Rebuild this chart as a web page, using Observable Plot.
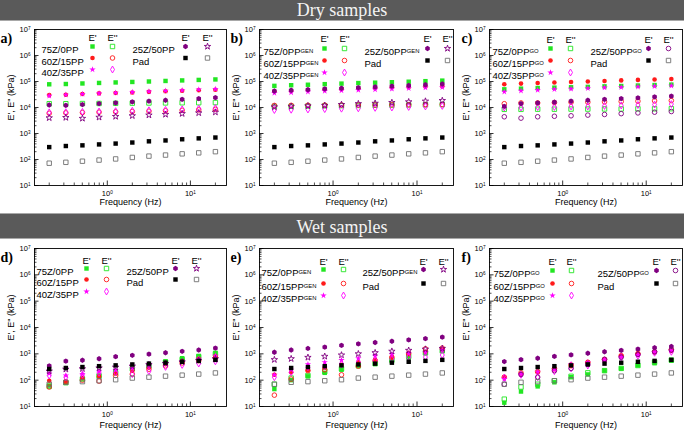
<!DOCTYPE html>
<html><head><meta charset="utf-8">
<script src="https://cdn.jsdelivr.net/npm/d3@7"></script>
<script src="https://cdn.jsdelivr.net/npm/@observablehq/plot@0.6"></script>
<style>
body{margin:0;background:#fff}
#wrap{position:relative;width:684px;height:433px;overflow:hidden;font-family:"Liberation Sans",Arial,sans-serif;background:#fff}
.band{position:absolute;left:0;width:684px;background:#5a5a5a;color:#f4f4f4;font-family:"Liberation Serif","Times New Roman",serif;font-size:18px;text-align:center;box-sizing:border-box;border-bottom:1px solid #a8a8a8}
.panel{position:absolute}
</style></head>
<body><div id="wrap">
<div class="band" style="top:0;height:21px;line-height:20px">Dry samples</div>
<div class="band" style="top:213px;height:26px;line-height:26px;border-top:1px solid #a8a8a8">Wet samples</div>
</div>
<script>
// ---- data ----
const freq = [0.2, 0.317, 0.502, 0.796, 1.26, 2, 3.17, 5.02, 7.96, 12.6, 20];
const sampleNames = ["75Z/0PP", "60Z/15PP", "40Z/35PP", "25Z/50PP", "Pad"];
const xTickValues = [1, 10];
const yTickValues = [1e1, 1e2, 1e3, 1e4, 1e5, 1e6, 1e7];

// Dry, neat (a)
const a75_Ep  = [78000, 80000, 84000, 88000, 92000, 96000, 100000, 105000, 110000, 115000, 120000];
const a75_Epp = [14000, 14000, 14200, 14300, 14500, 14700, 14900, 15000, 15200, 15300, 15500];
const a60_Ep  = [30000, 31000, 33000, 35000, 36000, 38000, 40000, 42000, 44000, 46000, 48000];
const a60_Epp = [6000, 6200, 6400, 6600, 6800, 7000, 7200, 7500, 7800, 8100, 8500];
const a40_Ep  = [28000, 31000, 33000, 35000, 37000, 39000, 41000, 44000, 46000, 49000, 51000];
const a40_Epp = [6500, 6600, 6800, 7000, 7200, 7500, 7800, 8100, 8500, 9000, 9500];
const a25_Ep  = [12500, 12000, 13000, 14000, 15000, 16500, 17500, 19000, 20500, 22000, 24000];
const a25_Epp = [4000, 4100, 3800, 4200, 4500, 4800, 5100, 5400, 5800, 6200, 6600];
const padDry_Ep  = [300, 330, 350, 380, 410, 450, 500, 540, 600, 650, 700];
const padDry_Epp = [72, 78, 86, 95, 105, 120, 135, 148, 165, 180, 200];

// Dry, GEN (b)
const b75_Ep  = [68000, 72000, 75000, 79000, 83000, 87000, 90000, 94000, 98000, 103000, 108000];
const b75_Epp = [11000, 11200, 11400, 11600, 11800, 12000, 12200, 12400, 12600, 12800, 13000];
const b60_Ep  = [42000, 44000, 47000, 50000, 52000, 55000, 57000, 60000, 62000, 64000, 66000];
const b60_Epp = [12000, 12100, 12200, 12300, 12400, 12500, 12600, 12700, 12800, 12900, 13000];
const b40_Ep  = [36000, 38000, 40000, 43000, 45000, 47000, 49000, 52000, 55000, 58000, 60000];
const b40_Epp = [8000, 8200, 8400, 8700, 9000, 9300, 9700, 10000, 10500, 11000, 11500];
const b25_Ep  = [43000, 46000, 49000, 52000, 55000, 58000, 62000, 66000, 70000, 75000, 80000];
const b25_Epp = [10500, 11000, 11500, 12000, 13000, 14000, 14500, 15500, 16500, 17500, 18500];

// Dry, GO (c)
const c75_Ep  = [50000, 53000, 56000, 58000, 60000, 62000, 65000, 67000, 70000, 73000, 76000];
const c75_Epp = [8500, 8500, 8600, 8600, 8700, 8700, 8800, 8800, 8900, 8900, 9000];
const c60_Ep  = [78000, 83000, 88000, 92000, 96000, 100000, 105000, 110000, 115000, 120000, 125000];
const c60_Epp = [14000, 15000, 15000, 15500, 16000, 16000, 16500, 17000, 17500, 18000, 18500];
const c40_Ep  = [40000, 44000, 47000, 50000, 52000, 55000, 58000, 60000, 63000, 66000, 69000];
const c40_Epp = [10000, 10000, 10500, 10500, 11000, 11000, 11500, 12000, 12500, 13000, 13500];
const c25_Ep  = [11000, 14000, 15000, 16000, 17500, 19000, 20500, 22000, 23500, 25500, 27500];
const c25_Epp = [4400, 3900, 4400, 4600, 4800, 5100, 5400, 5800, 6200, 6600, 7000];

// Wet, neat (d)
const d75_Ep  = [62, 81, 115, 145, 205, 270, 370, 520, 680, 830, 1090];
const d75_Epp = [58, 80, 110, 145, 190, 270, 340, 480, 610, 780, 1000];
const d60_Ep  = [95, 90, 120, 140, 180, 230, 300, 400, 520, 650, 800];
const d60_Epp = [55, 85, 100, 92, 150, 170, 260, 350, 450, 550, 700];
const d40_Ep  = [180, 150, 170, 210, 240, 280, 350, 420, 520, 650, 850];
const d40_Epp = [150, 130, 160, 190, 200, 170, 220, 320, 380, 430, 520];
const d25_Ep  = [350, 530, 570, 650, 780, 880, 980, 1100, 1250, 1400, 1650];
const d25_Epp = [220, 260, 270, 290, 310, 340, 390, 430, 490, 560, 650];
const padWet_Ep  = [265, 290, 315, 340, 365, 395, 425, 460, 500, 540, 590];
const padWet_Epp = [70, 83, 88, 95, 104, 120, 130, 142, 155, 170, 188];

// Wet, GEN (e)
const e75_Ep  = [46, 100, 140, 190, 250, 340, 410, 520, 720, 1050, 1300];
const e75_Epp = [70, 120, 150, 210, 270, 360, 430, 580, 800, 1100, 1300];
const e60_Ep  = [160, 200, 240, 300, 380, 480, 600, 750, 960, 1200, 1500];
const e60_Epp = [27, 110, 230, 250, 160, 340, 550, 740, 1050, 1550, 1650];
const e40_Ep  = [160, 250, 400, 480, 580, 680, 850, 960, 1050, 1150, 1400];
const e40_Epp = [130, 200, 310, 340, 410, 480, 550, 630, 750, 750, 900];
const e25_Ep  = [1150, 1400, 1600, 1800, 2100, 2400, 2700, 3000, 3400, 3800, 4300];
const e25_Epp = [600, 650, 730, 800, 900, 1000, 1100, 1250, 1350, 1500, 1600];

// Wet, GO (f)
const f75_Ep  = [14, 37, 58, 83, 130, 165, 230, 275, 365, 440, 550];
const f75_Epp = [19, 55, 70, 95, 140, 190, 230, 280, 360, 480, 580];
const f60_Ep  = [130, 170, 200, 280, 340, 480, 630, 850, 1050, 1150, 1300];
const f60_Epp = [130, 190, 210, 270, 380, 480, 600, 850, 1000, 1200, 1450];
const f40_Ep  = [110, 170, 210, 250, 410, 480, 600, 750, 900, 1150, 1300];
const f40_Epp = [125, 160, 130, 220, 280, 360, 530, 750, 850, 1100, 1200];
const f25_Ep  = [510, 600, 680, 800, 910, 1050, 1200, 1350, 1500, 1700, 1900];
const f25_Epp = [70, 165, 130, 230, 280, 400, 620, 750, 950, 1200, 1400];

// ---- styling ----
const symR = {square: 2.5, circle: 2.3, star: 2.0, diamond: 2.1, hexagon: 2.3};
const styles = [
  {c: "#22e622", c2: "#22e622", ep: "square", epp: "square"},
  {c: "#ff1a1a", c2: "#ff1a1a", ep: "circle", epp: "circle"},
  {c: "#ff00ff", c2: "#ff00ff", ep: "star", epp: "diamond"},
  {c: "#800080", c2: "#800080", ep: "hexagon", epp: "star"},
  {c: "#000000", c2: "#707070", ep: "square", epp: "square"}
];

const xMinor = [], yMinor = [];
for (const k of [-1, 0, 1]) for (let m = 2; m <= 9; m++) { const v = m * 10 ** k; if (v > 0.133 && v < 27.2) xMinor.push(v); }
for (let k = 1; k <= 6; k++) for (let m = 2; m <= 9; m++) yMinor.push(m * 10 ** k);

const panels = [
  {id: "a", left: 0, top: 22, width: 228, height: 191, mL: 34, mR: 2, mT: 7, mB: 28, sfx: "", e25: "star",
   S: [[a75_Ep, a75_Epp], [a60_Ep, a60_Epp], [a40_Ep, a40_Epp], [a25_Ep, a25_Epp], [padDry_Ep, padDry_Epp]],
   L: {hdr: 5, rows: [17, 28.5, 40], lab: [7, 98], sym: [58, 78, 151, 173]}, letDx: -34},
  {id: "b", left: 228, top: 22, width: 228, height: 191, mL: 31, mR: 3, mT: 7, mB: 28, sfx: "^GEN", e25: "star",
   S: [[b75_Ep, b75_Epp], [b60_Ep, b60_Epp], [b40_Ep, b40_Epp], [b25_Ep, b25_Epp], [padDry_Ep, padDry_Epp]],
   L: {hdr: 6, rows: [19, 31, 43], lab: [4, 105], sym: [65, 85, 168, 188]}, letDx: -29},
  {id: "c", left: 456, top: 22, width: 228, height: 191, mL: 33, mR: 2, mT: 7, mB: 28, sfx: "^GO", e25: "circle",
   S: [[c75_Ep, c75_Epp], [c60_Ep, c60_Epp], [c40_Ep, c40_Epp], [c25_Ep, c25_Epp], [padDry_Ep, padDry_Epp]],
   L: {hdr: 7, rows: [19, 31, 43], lab: [3, 101], sym: [61, 81, 159, 179]}, letDx: -28},
  {id: "d", left: 0, top: 240, width: 228, height: 193, mL: 34, mR: 2, mT: 8, mB: 27, sfx: "", e25: "star",
   S: [[d75_Ep, d75_Epp], [d60_Ep, d60_Epp], [d40_Ep, d40_Epp], [d25_Ep, d25_Epp], [padWet_Ep, padWet_Epp]],
   L: {hdr: 9, rows: [20, 31, 43], lab: [2, 92], sym: [52, 72, 141, 162]}, letDx: -34},
  {id: "e", left: 228, top: 240, width: 228, height: 193, mL: 31, mR: 3, mT: 8, mB: 27, sfx: "^GEN", e25: "star",
   S: [[e75_Ep, e75_Epp], [e60_Ep, e60_Epp], [e40_Ep, e40_Epp], [e25_Ep, e25_Epp], [padWet_Ep, padWet_Epp]],
   L: {hdr: 10, rows: [21, 35, 47], lab: [2, 103], sym: [64, 84, 164, 184]}, letDx: -29},
  {id: "f", left: 456, top: 240, width: 228, height: 193, mL: 33, mR: 2, mT: 8, mB: 27, sfx: "^GO", e25: "circle",
   S: [[f75_Ep, f75_Epp], [f60_Ep, f60_Epp], [f40_Ep, f40_Epp], [f25_Ep, f25_Epp], [padWet_Ep, padWet_Epp]],
   L: {hdr: 10, rows: [22, 35, 47], lab: [4, 108], sym: [63, 82, 167, 186]}, letDx: -28}
];

function supify(svg) {
  svg.querySelectorAll("text").forEach(t => {
    if (t.children.length) return;
    const s = t.textContent;
    if (!s.includes("^")) return;
    const [base, sup] = s.split("^");
    t.textContent = base;
    const ts = document.createElementNS("http://www.w3.org/2000/svg", "tspan");
    ts.setAttribute("dy", "-0.45em");
    ts.setAttribute("font-size", "62%");
    ts.textContent = sup;
    t.appendChild(ts);
  });
}

const FONT = "'Liberation Sans', Arial, sans-serif";
const wrap = document.getElementById("wrap");

for (const p of panels) {
  const fw = p.width - p.mL - p.mR, fh = p.height - p.mT - p.mB;
  const marks = [];
  marks.push(Plot.frame({stroke: "#000", strokeWidth: 0.9}));
  marks.push(Plot.tickX(xMinor, {x: d => d, insetTop: fh - 2.5, stroke: "#000", strokeWidth: 0.7}));
  marks.push(Plot.tickX(xTickValues, {x: d => d, insetTop: fh - 4.5, stroke: "#000", strokeWidth: 0.8}));
  marks.push(Plot.tickY(yMinor, {y: d => d, insetRight: fw - 2.5, stroke: "#000", strokeWidth: 0.7}));
  marks.push(Plot.tickY(yTickValues, {y: d => d, insetRight: fw - 4.5, stroke: "#000", strokeWidth: 0.8}));
  marks.push(Plot.axisX({ticks: xTickValues, tickFormat: d => "10^" + Math.round(Math.log10(d)), tickSize: 0, tickPadding: 5, fontSize: 7.5, label: null}));
  marks.push(Plot.axisY({ticks: yTickValues, tickFormat: d => "10^" + Math.round(Math.log10(d)), tickSize: 0, tickPadding: 4, fontSize: 7.5, label: null}));
  // data
  p.S.forEach((pair, i) => {
    const st = styles[i];
    [0, 1].forEach(k => {
      const arr = pair[k];
      const table = freq.map((f, j) => ({f, v: arr[j]}));
      const sym = k === 0 ? st.ep : (i === 3 ? p.e25 : st.epp);
      const col = k === 0 ? st.c : st.c2;
      marks.push(Plot.dot(table, {x: "f", y: "v", symbol: sym, r: symR[sym],
        fill: k === 0 ? col : "none", stroke: k === 0 ? "none" : col, strokeWidth: 0.9}));
    });
  });
  // legend
  const L = p.L;
  const hdrs = [["E'", L.sym[0]], ["E''", L.sym[1]], ["E'", L.sym[2]], ["E''", L.sym[3]]];
  for (const [t, dx] of hdrs) marks.push(Plot.text([t], {text: d => d, frameAnchor: "top-left", dx, dy: L.hdr, fontSize: 9.5, textAnchor: "middle", fill: "#000"}));
  p.S.forEach((pair, i) => {
    const st = styles[i];
    const col = i < 3 ? 0 : 1;
    const row = i < 3 ? i : i - 3;
    const name = i < 4 ? sampleNames[i] + p.sfx : sampleNames[i];
    const dy = L.rows[row];
    marks.push(Plot.text([name], {text: d => d, frameAnchor: "top-left", dx: L.lab[col], dy, fontSize: 9.5, textAnchor: "start", fill: "#000"}));
    [0, 1].forEach(k => {
      const sym = k === 0 ? st.ep : (i === 3 ? p.e25 : st.epp);
      const c = k === 0 ? st.c : st.c2;
      marks.push(Plot.dot([name], {frameAnchor: "top-left", dx: L.sym[col * 2 + k], dy, symbol: sym, r: symR[sym],
        fill: k === 0 ? c : "none", stroke: k === 0 ? "none" : c, strokeWidth: 0.9}));
    });
  });
  // panel letter and axis labels
  marks.push(Plot.text([p.id + ")"], {text: d => d, frameAnchor: "top-left", dx: p.letDx, dy: 4, textAnchor: "start", fontWeight: "bold", fontSize: 14, fontFamily: "'Liberation Serif', 'Times New Roman', serif", fill: "#000"}));
  marks.push(Plot.text(["E', E'' (kPa)"], {text: d => d, frameAnchor: "left", dx: -23, dy: -10, rotate: -90, fontSize: 9, textAnchor: "middle", fill: "#000"}));
  marks.push(Plot.text(["Frequency (Hz)"], {text: d => d, frameAnchor: "bottom", dy: p.top < 100 ? 19 : 21, fontSize: 9, textAnchor: "middle", fill: "#000"}));

  const svg = Plot.plot({
    width: p.width, height: p.height,
    marginLeft: p.mL, marginRight: p.mR, marginTop: p.mT, marginBottom: p.mB,
    x: {type: "log", domain: [0.133, 27.2]},
    y: {type: "log", domain: [10, 1e7]},
    style: {fontFamily: FONT, background: "transparent", overflow: "visible", color: "#000"},
    marks
  });
  supify(svg);
  const div = document.createElement("div");
  div.className = "panel";
  div.style.left = p.left + "px";
  div.style.top = p.top + "px";
  div.appendChild(svg);
  wrap.appendChild(div);
}
</script>
</body></html>
